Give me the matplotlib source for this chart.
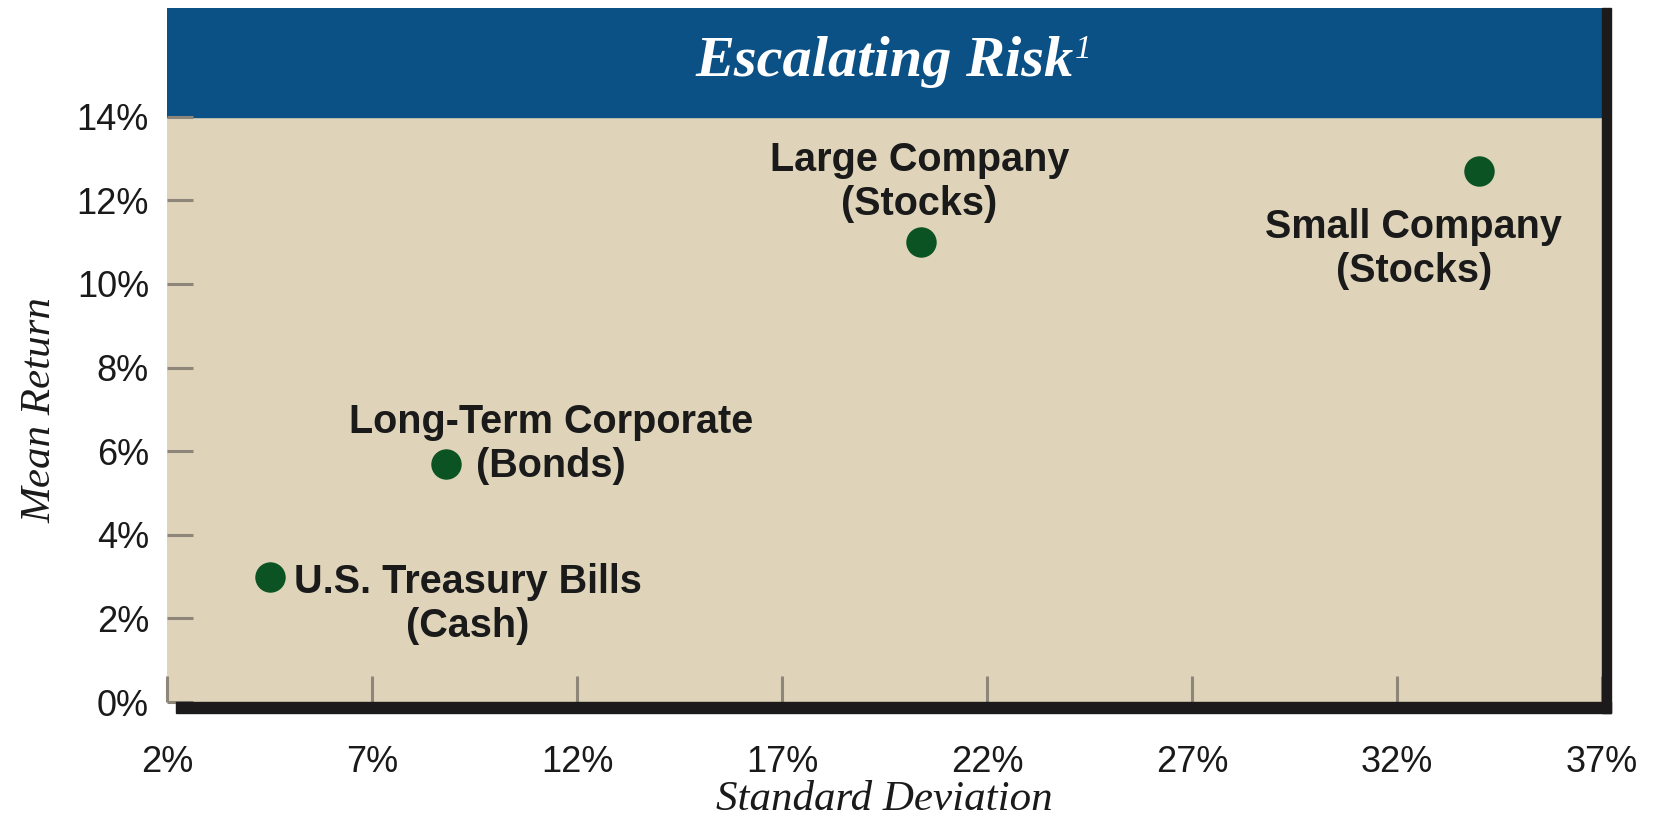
import numpy as np
import matplotlib
matplotlib.use("Agg")
import matplotlib.pyplot as plt
from matplotlib.patches import Rectangle

# values
names = ["U.S. Treasury Bills\n(Cash)", "Long-Term Corporate\n(Bonds)",
         "Large Company\n(Stocks)", "Small Company\n(Stocks)"]
std_dev = [4.5, 8.8, 20.4, 34.0]
mean_ret = [3.0, 5.7, 11.0, 12.7]
xticks = [2, 7, 12, 17, 22, 27, 32, 37]
yticks = [0, 2, 4, 6, 8, 10, 12, 14]

# label offsets in points from each dot
offsets = [(143, -20), (76, 14), (-1.5, 43), (-47, -56)]

BLUE = "#0c5186"
TAN = "#dfd4ba"
GREEN = "#0b5322"
TXT = "#1a1a1a"
TICK = "#8e8679"
SERIF = ["Liberation Serif", "DejaVu Serif"]

plt.rcParams["font.family"] = ["Liberation Sans", "DejaVu Sans"]

fig = plt.figure(figsize=(16.55, 8.21), dpi=100)
ax = fig.add_axes([167 / 1655, 1 - 702 / 821, 1435 / 1655, 694 / 821])
ax.set_facecolor(TAN)
ax.set_xlim(2, 37)
ax.set_ylim(0, 16.6)

# blue title band
ax.axhspan(14, 16.6, color=BLUE, zorder=1)
title = ax.text(0.5, 15.3 / 16.6, "Escalating Risk", transform=ax.transAxes,
                ha="center", va="center", color="white", fontsize=42,
                family=SERIF, style="italic", fontweight="bold", zorder=5)
ax.annotate("1", xy=(1, 1), xycoords=title, xytext=(1, 1), textcoords="offset points",
            ha="left", va="top", color="white", fontsize=24,
            family=SERIF, style="italic", zorder=5)

ax.scatter(std_dev, mean_ret, s=480, color=GREEN, zorder=4, linewidths=0)
for name, x, y, off in zip(names, std_dev, mean_ret, offsets):
    ax.annotate(name, xy=(x, y), xytext=off, textcoords="offset points",
                ha="center", va="center", fontsize=28.5, fontweight="bold",
                color=TXT, zorder=5)

for s in ax.spines.values():
    s.set_visible(False)

# drop shadow along bottom and right
sh_w = 9 / 1435
sh_h = 11 / 694
ax.add_patch(Rectangle((1.0, -sh_h), sh_w, 1 + sh_h, transform=ax.transAxes,
                       color="#1c1a1a", clip_on=False, zorder=6))
ax.add_patch(Rectangle((sh_w, -sh_h), 1.0, sh_h, transform=ax.transAxes,
                       color="#1c1a1a", clip_on=False, zorder=6))

ax.set_xticks(xticks)
ax.set_xticklabels([f"{t}%" for t in xticks])
ax.set_yticks(yticks)
ax.set_yticklabels([f"{t}%" for t in yticks])
ax.tick_params(direction="in", length=19, width=2.2, color=TICK, labelsize=26,
               labelcolor=TXT, zorder=3)
ax.tick_params(axis="y", pad=13)
ax.tick_params(axis="x", pad=31)

ax.text(-0.0885, (702 - 410) / 694, "Mean Return", transform=ax.transAxes,
        rotation=90, ha="center", va="center", fontsize=31, style="italic",
        family=SERIF, color=TXT)
ax.text(0.5, -(800 - 702) / 694, "Standard Deviation", transform=ax.transAxes,
        ha="center", va="center", fontsize=31, style="italic",
        family=SERIF, color=TXT)

fig.savefig("out.png", dpi=100, facecolor="white")
